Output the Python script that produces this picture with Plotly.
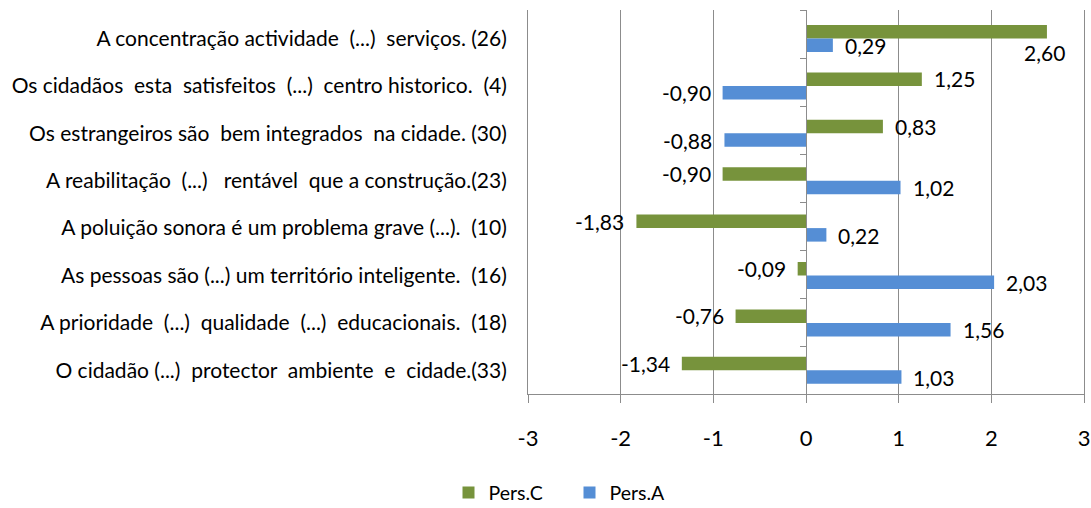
import plotly.graph_objects as go

categories = [
    "A concentração actividade  (...)  serviços. (26)",
    "Os cidadãos  esta  satisfeitos  (...)  centro historico.  (4)",
    "Os estrangeiros são  bem integrados  na cidade. (30)",
    "A reabilitação  (...)   rentável  que a construção.(23)",
    "A poluição sonora é um problema grave (...).  (10)",
    "As pessoas são (...) um território inteligente.  (16)",
    "A prioridade  (...)  qualidade  (...)  educacionais.  (18)",
    "O cidadão (...)  protector  ambiente  e  cidade.(33)",
]
pers_c = [2.60, 1.25, 0.83, -0.90, -1.83, -0.09, -0.76, -1.34]
pers_a = [0.29, -0.90, -0.88, 1.02, 0.22, 2.03, 1.56, 1.03]
x_ticks = [-3, -2, -1, 0, 1, 2, 3]

GREEN = "#77933C"
BLUE = "#558ED5"
GRID = "#8C8C8C"
FONT = "Lato"

W, H = 1091, 508

fig = go.Figure()
fig.add_trace(go.Bar(y=categories, x=pers_c, orientation="h", name="Pers.C",
                     marker=dict(color=GREEN, line=dict(width=0))))
fig.add_trace(go.Bar(y=categories, x=pers_a, orientation="h", name="Pers.A",
                     marker=dict(color=BLUE, line=dict(width=0))))
# helper axis: vertical axis line at zero with ticks at category boundaries
fig.add_trace(go.Scatter(x=[None], y=[None], yaxis="y2", showlegend=False,
                         hoverinfo="skip"))

def fmt(v):
    return f"{v:.2f}".replace(".", ",")

annotations = []
for series, ysh in ((pers_c, 7), (pers_a, -7)):
    for cat, v in zip(categories, series):
        if v >= 0:
            if v + 0.6 > x_ticks[-1]:
                annotations.append(dict(x=v, y=cat, text=fmt(v), showarrow=False,
                                        xanchor="center", yanchor="middle",
                                        yshift=ysh - 21, xshift=-2))
            else:
                annotations.append(dict(x=v, y=cat, text=fmt(v), showarrow=False,
                                        xanchor="left", yanchor="middle",
                                        yshift=ysh, xshift=10))
        else:
            annotations.append(dict(x=v, y=cat, text=fmt(v), showarrow=False,
                                    xanchor="right", yanchor="middle",
                                    yshift=ysh, xshift=-10))
for a in annotations:
    a["font"] = dict(family=FONT, size=21, color="#000000")

fig.update_layout(
    width=W, height=H,
    barmode="group", bargap=0.43, bargroupgap=0,
    plot_bgcolor="white", paper_bgcolor="white",
    margin=dict(l=528, r=7, t=10, b=114, autoexpand=False),
    font=dict(family=FONT, size=21, color="#000000"),
    showlegend=True,
    legend=dict(orientation="h", xref="container", yref="container",
                x=0.522, y=0.03, xanchor="center", yanchor="middle",
                font=dict(family=FONT, size=19.5), traceorder="normal",
                itemwidth=30, entrywidth=76, entrywidthmode="pixels"),
    annotations=annotations,
    xaxis=dict(range=[x_ticks[0], x_ticks[-1]], tickvals=x_ticks,
               ticktext=[str(t) for t in x_ticks], automargin=False,
               showgrid=True, gridcolor=GRID, gridwidth=1,
               zeroline=False, showline=True, linecolor=GRID, linewidth=1,
               ticks="outside", ticklen=8, tickcolor=GRID,
               ticklabelstandoff=17, tickfont=dict(size=22),
               ticklabeloverflow="allow"),
    yaxis=dict(autorange="reversed", showgrid=False, zeroline=False,
               showline=True, mirror=True, linecolor=GRID, linewidth=1,
               ticks="", ticklabelstandoff=16, automargin=False,
               tickfont=dict(size=21)),
    yaxis2=dict(overlaying="y", anchor="free", position=0.5, automargin=False,
                range=[len(categories) - 0.5, -0.5],
                tickvals=[i - 0.5 for i in range(len(categories) + 1)],
                showticklabels=False, ticks="outside", ticklen=6,
                tickcolor=GRID, showline=True, linecolor=GRID, linewidth=1,
                showgrid=False, zeroline=False, side="left"),
)
fig.write_html("out.html", config={"displayModeBar": False},
               post_script="document.body.style.margin='0';document.body.style.overflow='hidden';")
